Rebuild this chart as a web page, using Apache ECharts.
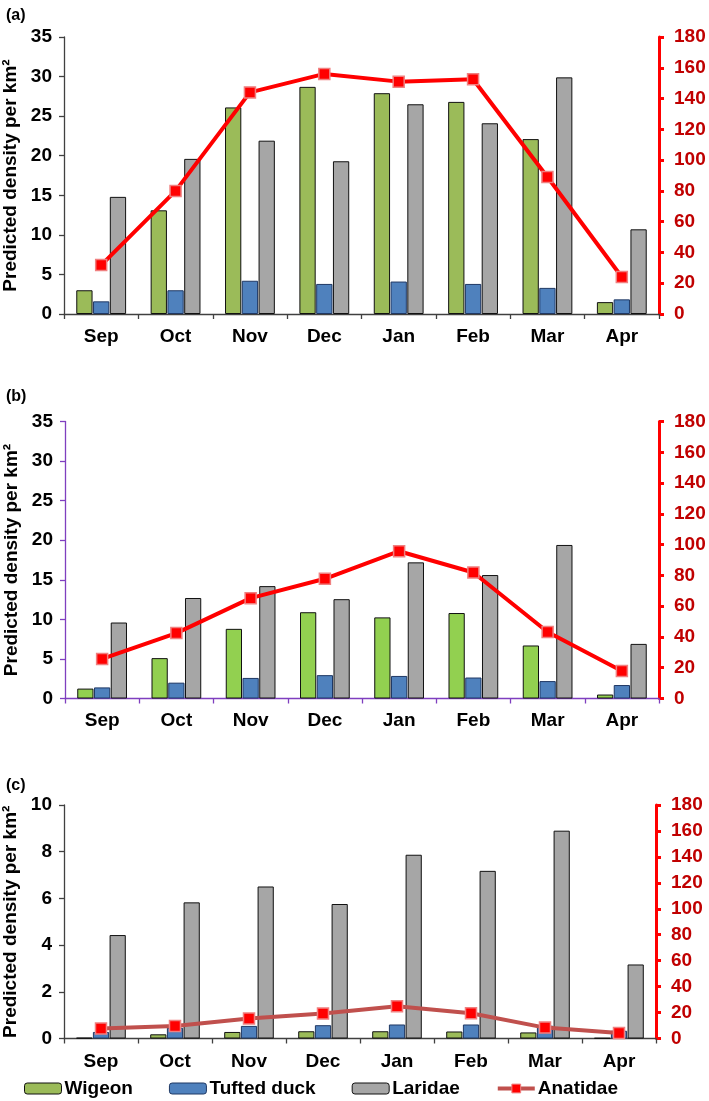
<!DOCTYPE html>
<html><head><meta charset="utf-8">
<script src="https://cdn.jsdelivr.net/npm/echarts@6/dist/echarts.min.js"></script>
<style>html,body{margin:0;padding:0;background:#fff}#c{width:709px;height:1101px}</style>
</head><body><div id="c"></div>
<script>
const months = ['Sep','Oct','Nov','Dec','Jan','Feb','Mar','Apr'];
const leftTicksAB = [0,5,10,15,20,25,30,35];
const leftTicksC = [0,2,4,6,8,10];
const rightTicks = [0,20,40,60,80,100,120,140,160,180];

const wigeonA   = [3.0, 13.1, 26.1, 28.7, 27.9, 26.8, 22.1, 1.5];
const tuftedA   = [1.6, 3.0, 4.2, 3.8, 4.1, 3.8, 3.3, 1.85];
const laridaeA  = [14.8, 19.6, 21.9, 19.3, 26.5, 24.1, 29.9, 10.7];
const anatidaeA = [31.8, 80, 144, 156, 151, 152.5, 89, 24];

const wigeonB   = [1.25, 5.1, 8.8, 10.9, 10.25, 10.8, 6.7, 0.5];
const tuftedB   = [1.4, 2.0, 2.6, 2.95, 2.85, 2.65, 2.2, 1.7];
const laridaeB  = [9.6, 12.7, 14.2, 12.55, 17.2, 15.6, 19.4, 6.9];
const anatidaeB = [25.7, 42.5, 65.2, 77.8, 95.7, 81.9, 43.2, 17.9];

const wigeonC   = [0.03, 0.18, 0.28, 0.31, 0.31, 0.3, 0.26, 0.02];
const tuftedC   = [0.28, 0.46, 0.54, 0.57, 0.6, 0.6, 0.55, 0.33];
const laridaeC  = [4.43, 5.83, 6.51, 5.76, 7.87, 7.18, 8.9, 3.17];
const anatidaeC = [7.7, 9.7, 15.4, 19.2, 24.8, 19.4, 8.4, 4.3];

const FONT = 'Liberation Sans';
const FS = 19;
const panels = [
  {label:'(a)', top:37, height:277, left:64, right:50, lmax:35, linterval:5, axisColor:'#404040', green:'#9BBB59', line:'#FF0000',
   w:wigeonA, t:tuftedA, l:laridaeA, a:anatidaeA, labelTop:3, xm:13},
  {label:'(b)', top:421.5, height:277, left:65, right:50, lmax:35, linterval:5, axisColor:'#7F3FBF', green:'#92D050', line:'#FF0000',
   w:wigeonB, t:tuftedB, l:laridaeB, a:anatidaeB, labelTop:384, xm:13},
  {label:'(c)', top:805, height:233.5, left:64, right:53, lmax:10, linterval:2, axisColor:'#404040', green:'#9BBB59', line:'#C0504D',
   w:wigeonC, t:tuftedC, l:laridaeC, a:anatidaeC, labelTop:773, xm:14}
];

const grid=[], xAxis=[], yAxis=[], series=[], title=[];
panels.forEach((p,i)=>{
  grid.push({left:p.left, right:p.right, top:p.top, height:p.height, containLabel:false, outerBoundsMode:'none'});
  title.push({text:p.label, left:1, top:p.labelTop, textStyle:{fontFamily:FONT, fontWeight:'bold', fontSize:16, color:'#000'}});
  xAxis.push({type:'category', gridIndex:i, data:months,
    axisLine:{lineStyle:{color:p.axisColor, width:1.3}},
    axisTick:{show:true, length:5, lineStyle:{color:p.axisColor, width:1.3}},
    axisLabel:{fontFamily:FONT, fontWeight:'bold', fontSize:FS, color:'#000', margin:p.xm, interval:0},
    splitLine:{show:false}});
  yAxis.push({type:'value', gridIndex:i, min:0, max:p.lmax, interval:p.linterval, position:'left',
    name:'Predicted density per km²', nameLocation:'middle', nameGap:43,
    nameTextStyle:{fontFamily:FONT, fontWeight:'bold', fontSize:FS, color:'#000'},
    axisLine:{show:true, lineStyle:{color:p.axisColor, width:1.3}},
    axisTick:{show:true, length:5, lineStyle:{color:p.axisColor, width:1.3}},
    axisLabel:{fontFamily:FONT, fontWeight:'bold', fontSize:FS, color:'#000', margin:12},
    splitLine:{show:false}});
  yAxis.push({type:'value', gridIndex:i, min:0, max:180, interval:20, position:'right',
    axisLine:{show:true, lineStyle:{color:'#FF0000', width:3}},
    axisTick:{show:true, length:5, lineStyle:{color:'#FF0000', width:3}},
    axisLabel:{fontFamily:FONT, fontWeight:'bold', fontSize:FS, color:'#C00000', margin:15},
    splitLine:{show:false}});
  const common = {type:'bar', xAxisIndex:i, yAxisIndex:2*i, barGap:'3%', barCategoryGap:'33%'};
  series.push(Object.assign({name:'Wigeon', data:p.w, itemStyle:{color:p.green, borderColor:'#111', borderWidth:1}}, common));
  series.push(Object.assign({name:'Tufted duck', data:p.t, itemStyle:{color:'#4F81BD', borderColor:'#1F3864', borderWidth:1}}, common));
  series.push(Object.assign({name:'Laridae', data:p.l, itemStyle:{color:'#A6A6A6', borderColor:'#111', borderWidth:1}}, common));
  series.push({name:'Anatidae', type:'line', xAxisIndex:i, yAxisIndex:2*i+1, data:p.a, z:5,
    symbol:'rect', symbolSize:11, showSymbol:true,
    lineStyle:{color:p.line, width:4},
    itemStyle:{color:'#FF0000', borderColor:'#F08080', borderWidth:1.5}});
});

const chart = echarts.init(document.getElementById('c'), null, {renderer:'canvas'});
chart.setOption({
  animation:false,
  backgroundColor:'#fff',
  title:title,
  grid:grid, xAxis:xAxis, yAxis:yAxis, series:series,
  legend:{left:19, top:1074, itemWidth:37, itemHeight:11, itemGap:36,
    textStyle:{fontFamily:FONT, fontWeight:'bold', fontSize:FS, color:'#000', padding:[0,0,0,-2]},
    data:[
      {name:'Wigeon', itemStyle:{color:'#9BBB59', borderColor:'#111', borderWidth:1}},
      {name:'Tufted duck', itemStyle:{color:'#4F81BD', borderColor:'#1F3864', borderWidth:1}},
      {name:'Laridae', itemStyle:{color:'#A6A6A6', borderColor:'#111', borderWidth:1}},
      {name:'Anatidae', lineStyle:{color:'#C0504D', width:4}, itemStyle:{color:'#FF0000', borderColor:'#F08080', borderWidth:1}}
    ]}
});
</script></body></html>
